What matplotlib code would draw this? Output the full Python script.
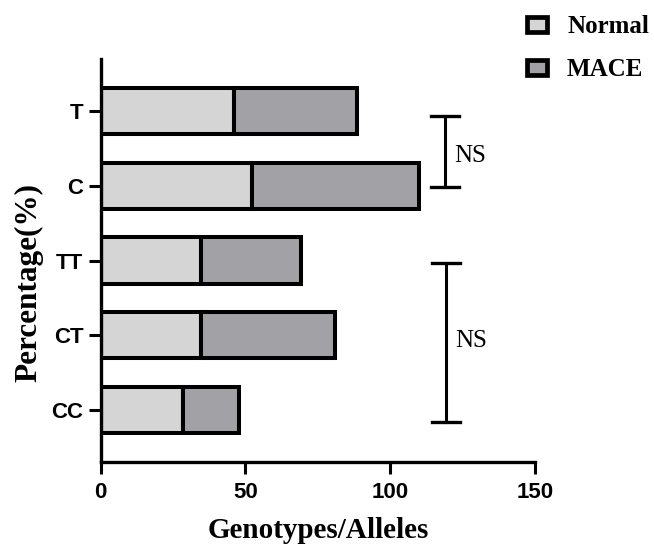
import matplotlib.pyplot as plt
import numpy as np

categories = ['CC', 'CT', 'TT', 'C', 'T']
normal = [28.5, 34.6, 34.6, 52.2, 46.1]
mace = [19.1, 46.2, 34.7, 57.7, 42.5]
xticks = [0, 50, 100, 150]

light = '#d5d5d5'
dark = '#a2a1a6'
serif = 'Liberation Serif'
sans = 'Liberation Sans'

plt.rcParams['font.family'] = sans

fig = plt.figure(figsize=(6.54, 5.45), dpi=100)
ax = fig.add_axes([0.154, 0.153, 0.664, 0.739])

y = np.arange(len(categories))
ax.barh(y, normal, height=0.62, color=light, edgecolor='black', linewidth=2.9, label='Normal')
ax.barh(y, mace, left=normal, height=0.62, color=dark, edgecolor='black', linewidth=2.9, label='MACE')

ax.set_xlim(0, 150)
ax.set_ylim(-0.69, 4.7)
ax.set_xticks(xticks)
ax.set_yticks(y)
ax.set_yticklabels(categories)

for s in ['top', 'right']:
    ax.spines[s].set_visible(False)
for s in ['left', 'bottom']:
    ax.spines[s].set_linewidth(2.4)
ax.tick_params(axis='both', width=2.2, length=8.5, labelsize=16)
ax.tick_params(axis='x', pad=6)
ax.tick_params(axis='y', pad=4)
for lab in ax.get_xticklabels() + ax.get_yticklabels():
    lab.set_fontweight('bold')

ax.set_xlabel('Genotypes/Alleles', fontfamily=serif, fontweight='bold', fontsize=21, labelpad=10)
fig.text(29 / 654, 1 - 283 / 545, 'Percentage(%)', rotation=90, ha='center', va='center',
         fontfamily=serif, fontweight='bold', fontsize=22.5)

# significance brackets
def bracket(x, y0, y1, txt, ty):
    ax.plot([x, x], [y0, y1], color='black', lw=2.2, clip_on=False)
    ax.plot([x - 4.8, x + 4.8], [y0, y0], color='black', lw=2.4, clip_on=False)
    ax.plot([x - 4.8, x + 4.8], [y1, y1], color='black', lw=2.4, clip_on=False)
    ax.text(x + 3.3, ty, txt, ha='left', va='center', fontfamily=serif, fontsize=18)

bracket(118.8, 2.985, 3.93, 'NS', 3.40)
bracket(119.3, -0.165, 1.967, 'NS', 0.93)

leg = fig.legend(loc='upper left', bbox_to_anchor=(0.806, 0.972), frameon=False,
                 prop={'family': serif, 'weight': 'bold', 'size': 18},
                 handlelength=0.8, handleheight=0.55, handletextpad=0.8,
                 labelspacing=0.8, borderpad=0, borderaxespad=0)
for h in leg.legend_handles:
    h.set_linewidth(3.4)

fig.savefig('out.png', dpi=100)
